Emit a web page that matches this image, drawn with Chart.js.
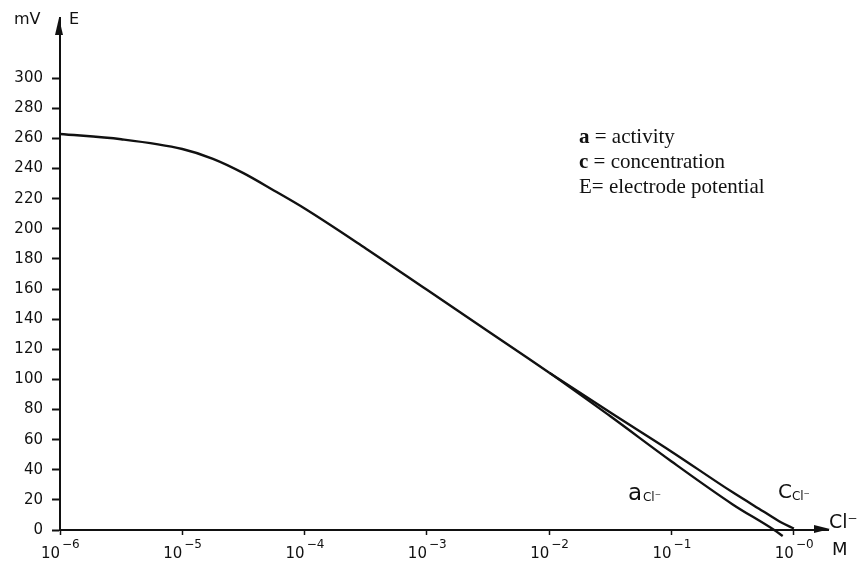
<!DOCTYPE html>
<html>
<head>
<meta charset="utf-8">
<script src="https://cdn.jsdelivr.net/npm/chart.js@4"></script>
<style>
html, body { margin: 0; padding: 0; background: #fff; }
#wrap { width: 858px; height: 564px; position: relative; }
</style>
</head>
<body>
<div id="wrap"><canvas id="potentialChart"></canvas></div>
<script>
var commonConc = [1e-6, 3.16e-6, 1e-5, 1.78e-5, 3.16e-5, 5.6e-5, 1e-4, 3.16e-4, 1e-3, 3.16e-3, 1e-2];
var commonE = [263, 259.5, 253, 246.5, 237, 225.5, 213.5, 187, 159.5, 132, 104.5];

var activityConc = [1e-2, 3.16e-2, 0.1, 0.316, 0.69, 0.81];
var activityE = [104.5, 75.5, 45.5, 17, 0, -4];

var concConc = [1e-2, 3.16e-2, 0.1, 0.316, 0.56, 0.79, 1.0];
var concE = [104.5, 78, 52, 25, 12.5, 5, 1];

var xTicks = [1e-6, 1e-5, 1e-4, 1e-3, 1e-2, 1e-1, 1];
var xTickExps = ['\u22126', '\u22125', '\u22124', '\u22123', '\u22122', '\u22121', '\u22120'];
var yTicks = [0, 20, 40, 60, 80, 100, 120, 140, 160, 180, 200, 220, 240, 260, 280, 300];
var legendLines = [['a', ' = activity'], ['c', ' = concentration'], ['', 'E= electrode potential']];

var ink = '#111';

function pts(xs, ys) {
    return xs.map(function (x, i) { return { x: x, y: ys[i] }; });
}

function lineSet(label, data) {
    return {
        label: label,
        data: data,
        borderColor: ink,
        borderWidth: 2.4,
        pointRadius: 0,
        fill: false,
        cubicInterpolationMode: 'monotone',
        clip: 12
    };
}

var annotate = {
    id: 'annotate',
    afterDraw: function (chart) {
        var c = chart.ctx, a = chart.chartArea;
        var xs = chart.scales.x, ys = chart.scales.y;
        c.save();
        c.fillStyle = ink;

        // arrowheads on both axes
        c.beginPath();
        c.moveTo(a.left - 1, a.top);
        c.lineTo(a.left - 5, a.top + 17);
        c.lineTo(a.left + 3, a.top + 17);
        c.closePath();
        c.fill();
        c.beginPath();
        c.moveTo(a.right + 2, a.bottom - 1);
        c.lineTo(a.right - 14, a.bottom - 5);
        c.lineTo(a.right - 14, a.bottom + 3);
        c.closePath();
        c.fill();

        // x tick labels: 10 with raised exponent
        c.textBaseline = 'alphabetic';
        xTicks.forEach(function (v, i) {
            var px = xs.getPixelForValue(v);
            c.textAlign = 'right';
            c.font = '15px "DejaVu Sans"';
            c.fillText('10', px, a.bottom + 28);
            c.textAlign = 'left';
            c.font = '12px "DejaVu Sans"';
            c.fillText(xTickExps[i], px + 2, a.bottom + 18);
        });

        // axis names
        c.textAlign = 'left';
        c.font = '16px "DejaVu Sans"';
        c.fillText('mV', 14, 24);
        c.fillText('E', 69, 24);
        c.font = '19px "DejaVu Sans"';
        c.fillText('Cl\u207B', a.right + 1, a.bottom - 2);
        c.font = '18px "DejaVu Sans"';
        c.fillText('M', a.right + 4, a.bottom + 25);

        // curve labels
        var ax = xs.getPixelForValue(0.044), ay = ys.getPixelForValue(20);
        c.font = '23px "DejaVu Sans"';
        c.fillText('a', ax, ay);
        c.font = '12px "DejaVu Sans"';
        c.fillText('Cl\u207B', ax + 15, ay + 1);
        var cx = xs.getPixelForValue(0.74), cy = ys.getPixelForValue(21);
        c.font = '20px "DejaVu Sans"';
        c.fillText('C', cx, cy);
        c.font = '12px "DejaVu Sans"';
        c.fillText('Cl\u207B', cx + 14, cy + 2);

        // key text
        var lx = 579, ly = 143;
        legendLines.forEach(function (ln, i) {
            var y = ly + i * 25, x = lx;
            if (ln[0]) {
                c.font = 'bold 21px "Liberation Serif"';
                c.fillText(ln[0], x, y);
                x += c.measureText(ln[0]).width;
            }
            c.font = '21px "Liberation Serif"';
            c.fillText(ln[1], x, y);
        });
        c.restore();
    }
};

var ctx = document.getElementById('potentialChart').getContext('2d');
var potentialChart = new Chart(ctx, {
    type: 'line',
    data: {
        datasets: [
            lineSet('common', pts(commonConc, commonE)),
            lineSet('a Cl-', pts(activityConc, activityE)),
            lineSet('c Cl-', pts(concConc, concE))
        ]
    },
    options: {
        responsive: true,
        maintainAspectRatio: false,
        animation: false,
        layout: { padding: { top: 9, right: 30, left: 0, bottom: 0 } },
        plugins: {
            legend: { display: false },
            tooltip: { enabled: false }
        },
        scales: {
            x: {
                type: 'logarithmic',
                min: 1e-6,
                max: 1.9,
                afterBuildTicks: function (scale) {
                    scale.ticks = xTicks.map(function (v) { return { value: v }; });
                },
                afterFit: function (scale) { scale.height = 34; },
                border: { display: true, color: ink, width: 2 },
                grid: { drawOnChartArea: false, drawTicks: true, tickLength: 5, tickWidth: 1.5, tickColor: ink },
                ticks: { display: false }
            },
            y: {
                type: 'linear',
                min: 0,
                max: 340,
                afterBuildTicks: function (scale) {
                    scale.ticks = yTicks.map(function (v) { return { value: v }; });
                },
                afterFit: function (scale) { scale.width = 60; },
                border: { display: true, color: ink, width: 2 },
                grid: { drawOnChartArea: false, drawTicks: true, tickLength: 8, tickWidth: 2, tickColor: ink },
                ticks: {
                    padding: 9,
                    color: ink,
                    font: { family: 'DejaVu Sans', size: 15 }
                }
            }
        }
    },
    plugins: [annotate]
});
</script>
</body>
</html>
